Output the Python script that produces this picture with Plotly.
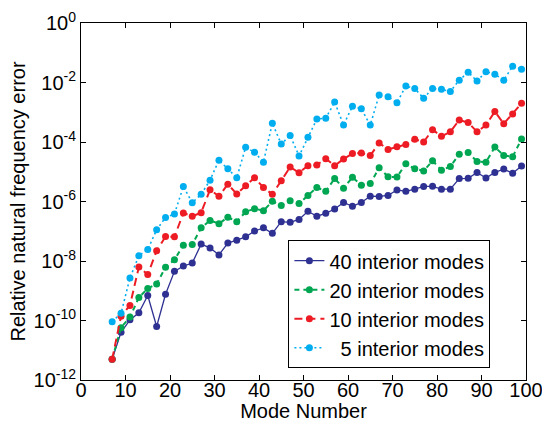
import plotly.graph_objects as go

modes = list(range(7, 100, 2))

err_40 = [5.0e-12, 4.0e-11, 1.05e-10, 1.82e-10, 6.9e-10, 6.3e-11, 7.6e-10, 4.5e-9, 6.8e-9, 8.5e-9,
          3.7e-8, 2.75e-8, 1.6e-8, 4.0e-8, 5.0e-8, 6.5e-8, 1.02e-7, 1.3e-7, 8.5e-8, 2.1e-7,
          2.0e-7, 2.5e-7, 4.7e-7, 3.2e-7, 4.0e-7, 5.6e-7, 9.3e-7, 6.9e-7, 9.3e-7, 1.5e-6,
          1.48e-6, 1.6e-6, 2.45e-6, 2.2e-6, 2.6e-6, 3.2e-6, 3.24e-6, 2.6e-6, 2.6e-6, 5.9e-6,
          6.0e-6, 9.5e-6, 6.2e-6, 9.5e-6, 1.23e-5, 8.9e-6, 1.55e-5]

err_20 = [5.0e-12, 5.75e-11, 1.3e-10, 5.9e-10, 1.2e-9, 1.7e-9, 6.2e-9, 1.1e-8, 3.4e-8, 3.6e-8,
          1.3e-7, 2.3e-7, 1.8e-7, 2.95e-7, 2.1e-7, 4.5e-7, 5.75e-7, 4.9e-7, 1.02e-6, 7.4e-7,
          1.07e-6, 8.5e-7, 1.6e-6, 2.95e-6, 2.2e-6, 5.9e-6, 2.8e-6, 6.5e-6, 3.5e-6, 4.0e-6,
          1.35e-5, 6.8e-6, 6.6e-6, 1.86e-5, 1.26e-5, 1.07e-5, 2.35e-5, 1.12e-5, 1.5e-5, 3.9e-5,
          4.4e-5, 2.2e-5, 2.1e-5, 6.8e-5, 3.5e-5, 3.2e-5, 1.26e-4]

err_10 = [5.0e-12, 1.4e-10, 3.2e-10, 6.3e-9, 3.5e-9, 2.2e-8, 6.6e-8, 6.5e-8, 4.1e-7, 3.2e-7,
          4.2e-7, 2.5e-6, 1.5e-6, 3.8e-6, 1.8e-6, 3.4e-6, 6.3e-6, 2.95e-6, 1.74e-6, 5.0e-6,
          1.45e-5, 9.3e-6, 1.6e-5, 1.7e-5, 2.75e-5, 1.6e-5, 2.7e-5, 4.1e-5, 4.3e-5, 3.5e-5,
          9.3e-5, 5.6e-5, 6.9e-5, 8.3e-5, 1.23e-4, 1.0e-4, 2.6e-4, 1.55e-4, 2.2e-4, 5.5e-4,
          4.5e-4, 2.2e-4, 3.7e-4, 1.05e-3, 4.1e-4, 8.7e-4, 2.0e-3]

err_5 = [9.1e-11, 1.74e-10, 2.7e-9, 1.5e-8, 2.45e-8, 1.12e-7, 2.9e-7, 3.8e-7, 3.2e-6, 9.1e-7,
         1.74e-6, 5.2e-6, 2.45e-5, 1.26e-5, 6.3e-6, 6.6e-5, 4.5e-5, 2.1e-5, 4.3e-4, 8.5e-5,
         1.66e-4, 3.4e-5, 1.45e-4, 5.9e-4, 6.3e-4, 2.2e-3, 3.7e-4, 1.6e-3, 1.3e-3, 3.7e-4,
         3.8e-3, 3.3e-3, 2.1e-3, 7.6e-3, 6.3e-3, 2.95e-3, 6.3e-3, 5.9e-3, 5.0e-3, 1.2e-2,
         2.2e-2, 1.12e-2, 2.3e-2, 1.9e-2, 1.2e-2, 3.55e-2, 2.8e-2]

series_names = ["40 interior modes", "20 interior modes", "10 interior modes",
                "\u00a0\u00a05 interior modes"]

x_ticks = [0, 10, 20, 30, 40, 50, 60, 70, 80, 90, 100]
y_tickvals = [1e0, 1e-2, 1e-4, 1e-6, 1e-8, 1e-10, 1e-12]
y_ticktext = ["10<sup>0</sup>", "10<sup>-2</sup>", "10<sup>-4</sup>", "10<sup>-6</sup>",
              "10<sup>-8</sup>", "10<sup>-10</sup>", "10<sup>-12</sup>"]

styles = [
    dict(color="#2e3192", dash="solid", width=1.3),
    dict(color="#00a651", dash="5px,4px", width=2),
    dict(color="#ed1c24", dash="8px,5px", width=2),
    dict(color="#00aeef", dash="2px,3px", width=1.6),
]

fig = go.Figure()
for name, ys, st in zip(series_names, [err_40, err_20, err_10, err_5], styles):
    fig.add_trace(go.Scatter(
        x=modes, y=ys, name=name, mode="lines+markers",
        line=dict(color=st["color"], dash=st["dash"], width=st["width"]),
        marker=dict(color=st["color"], size=7, symbol="circle"),
        cliponaxis=False,
    ))

axis_common = dict(
    showline=True, linecolor="black", linewidth=1, mirror="ticks",
    ticks="inside", ticklen=5, tickcolor="black", showgrid=False, zeroline=False,
    tickfont=dict(size=20, color="black"), automargin=False,
    ticklabeloverflow="allow",
)

fig.update_layout(
    width=542, height=422,
    margin=dict(l=81, r=16, t=23, b=42),
    paper_bgcolor="white", plot_bgcolor="white",
    font=dict(family="Liberation Sans, Arial, sans-serif", size=20, color="black"),
    showlegend=True,
    legend=dict(
        x=0.92, y=0.033, xanchor="right", yanchor="bottom",
        bgcolor="white", bordercolor="black", borderwidth=1,
        font=dict(size=20), itemwidth=30, tracegroupgap=0,
    ),
)
fig.update_xaxes(range=[0, 100], tickvals=x_ticks, ticklabelstandoff=-8,
                 title=dict(text="Mode Number", font=dict(size=20)),
                 **axis_common)
fig.update_yaxes(type="log", range=[-12, 0], tickvals=y_tickvals, ticktext=y_ticktext,
                 title=dict(text="Relative natural frequency error", font=dict(size=20), standoff=2),
                 **axis_common)

fig.write_html("out.html", post_script="document.body.style.margin='0px';",
               config={"displayModeBar": False})
